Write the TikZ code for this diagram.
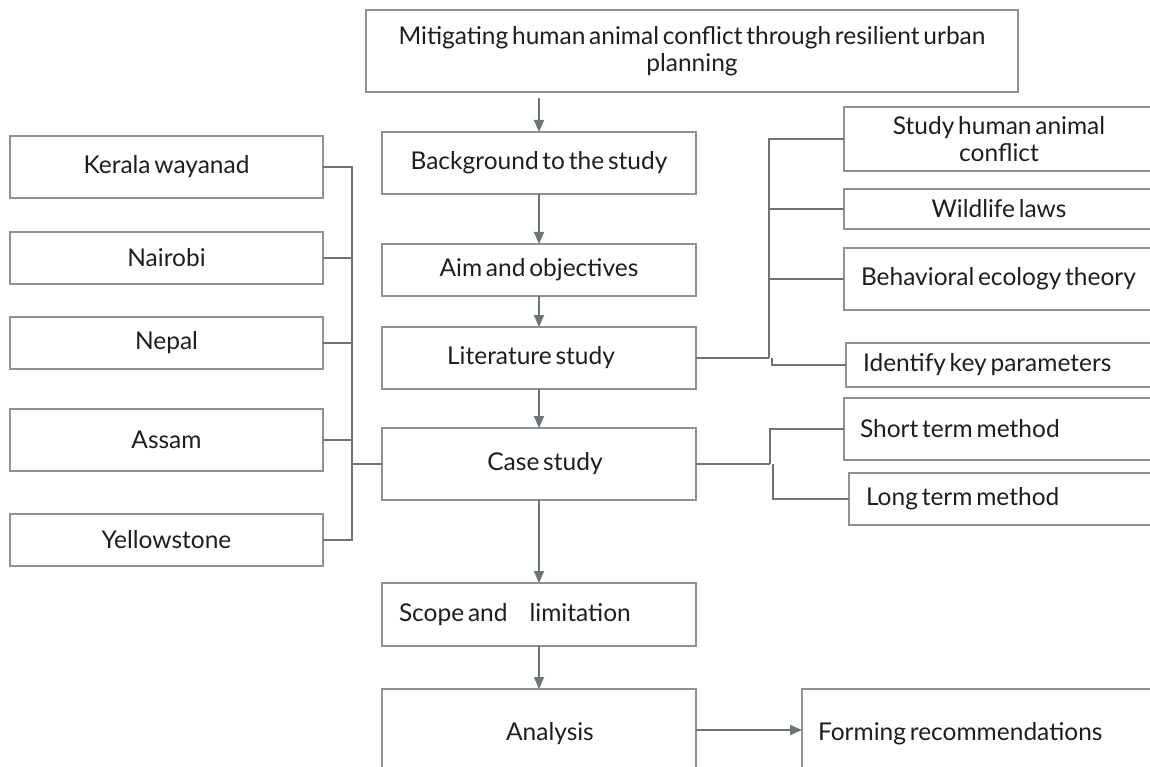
\documentclass[tikz,border=0pt]{standalone}
\usepackage{fontspec}
\setmainfont{Lato}[WordSpace=0.6]
\usetikzlibrary{arrows.meta}
\definecolor{boxc}{HTML}{8C9396}
\definecolor{linec}{HTML}{6B7478}
\definecolor{txt}{HTML}{1E1E1E}
\newcommand{\lefttext}[2]{\makebox[#1][l]{#2}}
\begin{document}
\begin{tikzpicture}[x=1pt,y=-1pt,
  box/.style={draw=boxc, line width=1.6pt, rectangle, inner sep=0pt, outer sep=0pt, anchor=north west,
    font=\fontsize{24.5}{27.5}\selectfont, text=txt},
  conn/.style={draw=linec, line width=1.6pt},
  arr/.style={conn, -{Triangle[length=12pt,width=10pt]}}]
\useasboundingbox (0,0) rectangle (1150,767);
\fill[white] (0,0) rectangle (1150,767);
\begin{scope}
\clip (0,0) rectangle (1150,767);
% centre column
\node[box, minimum width=652pt, minimum height=82pt, align=center] (top) at (366,10)
  {Mitigating human animal conflict through resilient urban\\planning};
\node[box, minimum width=314pt, minimum height=62pt] (bg) at (382,132) {Background to the study};
\node[box, minimum width=314pt, minimum height=52pt] (aim) at (382,244) {Aim and objectives};
\node[box, minimum width=314pt, minimum height=62pt] (lit) at (382,327)
  {Literature study\hspace*{16pt}};
\node[box, minimum width=314pt, minimum height=72pt] (case) at (382,428) {\hspace*{12pt}Case study};
\node[box, minimum width=314pt, minimum height=63pt] (scope) at (382,583)
  {\lefttext{280pt}{Scope and\hspace{22pt}limitation}};
\node[box, minimum width=314pt, minimum height=90pt] (ana) at (382,689) {\hspace*{22pt}Analysis};
% left column
\node[box, minimum width=313pt, minimum height=62pt] (ker) at (10,136) {Kerala wayanad};
\node[box, minimum width=313pt, minimum height=52pt] (nai) at (10,232) {Nairobi};
\node[box, minimum width=313pt, minimum height=52pt] (nep) at (10,317) {Nepal};
\node[box, minimum width=313pt, minimum height=62pt] (ass) at (10,409) {Assam};
\node[box, minimum width=313pt, minimum height=52pt] (yel) at (10,514) {Yellowstone};
% right column
\node[box, minimum width=310pt, minimum height=64pt, align=center] (hum) at (844,107)
  {Study human animal\\conflict};
\node[box, minimum width=310pt, minimum height=40pt] (wild) at (844,189) {Wildlife laws};
\node[box, minimum width=310pt, minimum height=62pt] (beh) at (844,248)
  {\lefttext{276pt}{Behavioral ecology theory}};
\node[box, minimum width=308pt, minimum height=44pt] (ide) at (846,343)
  {\lefttext{274pt}{Identify key parameters}};
\node[box, minimum width=310pt, minimum height=62pt] (short) at (844,398)
  {\lefttext{278pt}{Short term method}};
\node[box, minimum width=305pt, minimum height=52pt] (long) at (849,473)
  {\lefttext{271pt}{Long term method}};
\node[box, minimum width=352pt, minimum height=90pt] (form) at (802,689)
  {\lefttext{320pt}{Forming recommendations}};
% main arrows
\draw[arr, shorten <=6pt] (bg.north |- top.south) -- (bg.north);
\draw[arr] (bg.south) -- (aim.north);
\draw[arr] (aim.south) -- (lit.north);
\draw[arr] (lit.south) -- (case.north);
\draw[arr] (case.south) -- (scope.north);
\draw[arr] (scope.south) -- (ana.north);
\draw[arr] ([yshift=4pt]ana.east) -- ([yshift=4pt]form.west);
% left bus
\coordinate (lb) at (352,464);
\foreach \n in {ker,nai,nep,ass,yel} \draw[conn] (\n.east) -| (lb);
\draw[conn] (lb) -- (case.west);
% right bus (literature)
\coordinate (rb) at (769,358);
\coordinate (rb2) at (772,358);
\draw[conn] (lit.east) -- (rb);
\foreach \n in {hum,wild,beh} \draw[conn] (rb) |- (\n.west);
\draw[conn] (rb2) |- (ide.west);
% right bus (case study)
\coordinate (cb) at (770,464);
\coordinate (cb2) at (773,464);
\draw[conn] (case.east) -- (cb);
\draw[conn] (cb) |- (short.west);
\draw[conn] (cb2) |- (long.west);
\end{scope}
\end{tikzpicture}
\end{document}
